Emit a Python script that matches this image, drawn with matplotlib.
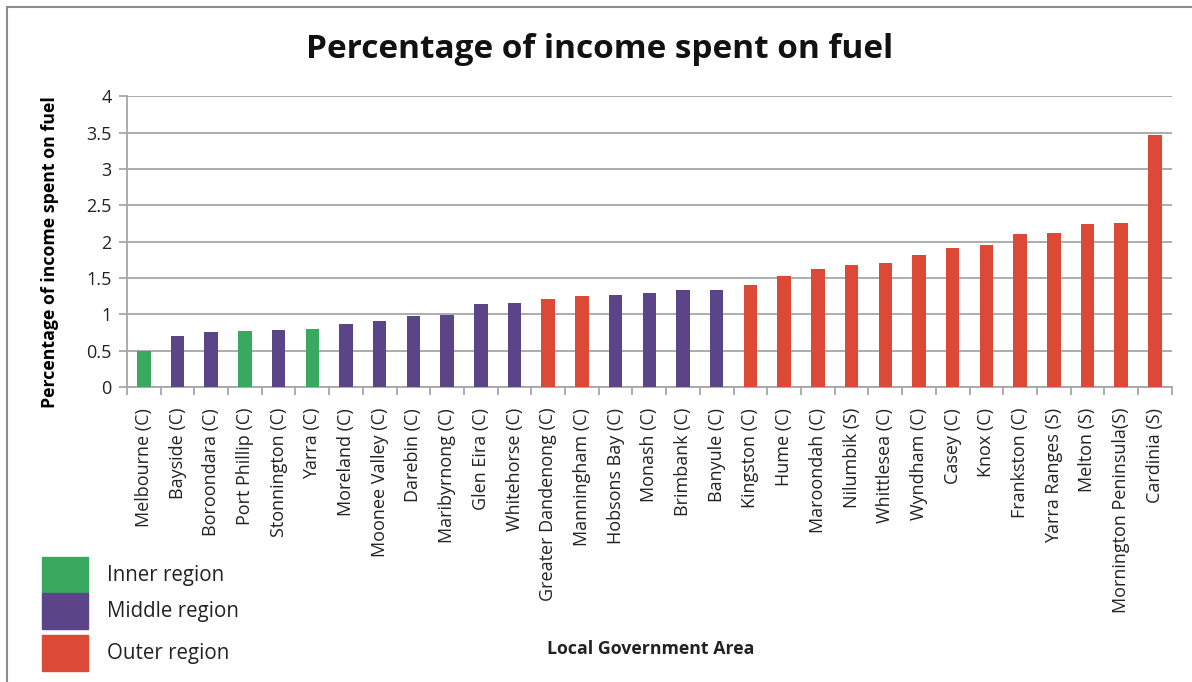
import matplotlib

matplotlib.use("Agg")
import matplotlib.pyplot as plt
from matplotlib.patches import Rectangle

plt.rcParams["font.family"] = ["Open Sans", "DejaVu Sans"]

# data
areas = [
    "Melbourne (C)", "Bayside (C)", "Boroondara (C)", "Port Phillip (C)",
    "Stonnington (C)", "Yarra (C)", "Moreland (C)", "Moonee Valley (C)",
    "Darebin (C)", "Maribyrnong (C)", "Glen Eira (C)", "Whitehorse (C)",
    "Greater Dandenong (C)", "Manningham (C)", "Hobsons Bay (C)", "Monash (C)",
    "Brimbank (C)", "Banyule (C)", "Kingston (C)", "Hume (C)", "Maroondah (C)",
    "Nilumbik (S)", "Whittlesea (C)", "Wyndham (C)", "Casey (C)", "Knox (C)",
    "Frankston (C)", "Yarra Ranges (S)", "Melton (S)", "Mornington Peninsula(S)",
    "Cardinia (S)",
]
pct_income = [
    0.49, 0.70, 0.75, 0.77, 0.79, 0.80, 0.86, 0.91, 0.975, 0.985, 1.14, 1.16,
    1.21, 1.245, 1.265, 1.29, 1.33, 1.34, 1.40, 1.52, 1.62, 1.68, 1.71, 1.81,
    1.91, 1.95, 2.11, 2.12, 2.24, 2.25, 3.47,
]
region = [
    "Inner", "Middle", "Middle", "Inner", "Middle", "Inner", "Middle", "Middle",
    "Middle", "Middle", "Middle", "Middle", "Outer", "Outer", "Middle", "Middle",
    "Middle", "Middle", "Outer", "Outer", "Outer", "Outer", "Outer", "Outer",
    "Outer", "Outer", "Outer", "Outer", "Outer", "Outer", "Outer",
]
region_names = ["Inner", "Middle", "Outer"]
region_colors = {"Inner": "#38a95e", "Middle": "#5b4588", "Outer": "#dc4a37"}

fig = plt.figure(figsize=(11.92, 6.82), dpi=100)
ax = fig.add_axes([0.1065, 0.4326, 0.8765, 0.4264])

x = list(range(len(areas)))
ax.bar(x, pct_income, width=0.4, color=[region_colors[r] for r in region],
       zorder=3)

ax.set_xlim(-0.5, len(areas) - 0.5)
ax.set_ylim(0, 4)
ax.set_yticks([0, 0.5, 1, 1.5, 2, 2.5, 3, 3.5, 4])
ax.set_yticklabels(["0", "0.5", "1", "1.5", "2", "2.5", "3", "3.5", "4"],
                   fontsize=13, color="#222222")
ax.grid(axis="y", color="#a6a6a6", lw=1.3, zorder=0)
for s in ["top", "right"]:
    ax.spines[s].set_visible(False)
ax.spines["left"].set_color("#a6a6a6")
ax.spines["bottom"].set_color("#a6a6a6")
ax.spines["left"].set_linewidth(1.3)
ax.spines["bottom"].set_linewidth(1.3)

# category ticks sit between the bars
ax.set_xticks([i - 0.5 for i in range(len(areas) + 1)], minor=True)
ax.set_xticks(x)
ax.set_xticklabels(areas, rotation=90, fontsize=13, color="#222222")
ax.tick_params(axis="x", which="major", length=0, pad=15)
ax.tick_params(axis="x", which="minor", length=6, color="#a6a6a6", width=1.3)
ax.tick_params(axis="y", length=6, color="#a6a6a6", width=1.3, pad=5)

ax.set_ylabel("Percentage of income spent on fuel", fontsize=12.8,
              fontweight="bold")
ax.yaxis.set_label_coords(-0.065, 0.465)

fig.text(0.503, 0.928, "Percentage of income spent on fuel", ha="center",
         va="center", fontsize=24, fontweight="bold", color="#111111")
fig.text(0.546, 0.048, "Local Government Area", ha="center", va="center",
         fontsize=12.8, fontweight="bold", color="#222222")

# manual legend in the bottom-left corner
legend_y = [575, 611, 653]
for name, yy in zip(region_names, legend_y):
    fig.patches.append(Rectangle((42 / 1192, 1 - (yy + 18) / 682),
                                 46 / 1192, 36 / 682,
                                 transform=fig.transFigure,
                                 color=region_colors[name]))
    fig.text(107 / 1192, 1 - yy / 682, f"{name} region", fontsize=14.8,
             va="center", color="#222222")

# outer frame
fig.patches.append(Rectangle((7 / 1192, -0.02), 1.1, 1 - 7 / 682 + 0.02,
                             transform=fig.transFigure, fill=False,
                             edgecolor="#8c8c8c", lw=1.5))

fig.savefig("out.png", dpi=100)
